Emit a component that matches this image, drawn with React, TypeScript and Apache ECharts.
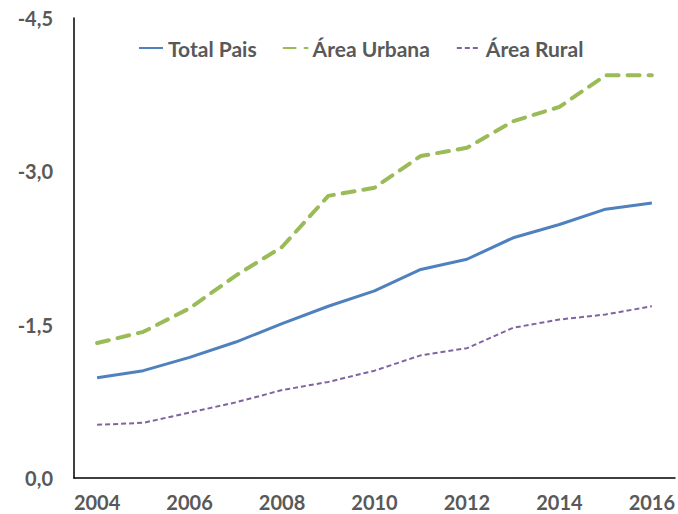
import React, { useEffect, useRef } from "react";
import * as echarts from "echarts";

const years = ["2004","2005","2006","2007","2008","2009","2010","2011","2012","2013","2014","2015","2016"];
const totalPais = [-0.98,-1.05,-1.18,-1.33,-1.51,-1.68,-1.83,-2.04,-2.14,-2.35,-2.48,-2.63,-2.69];
const areaUrbana = [-1.32,-1.43,-1.66,-1.98,-2.26,-2.76,-2.84,-3.15,-3.23,-3.49,-3.63,-3.94,-3.94];
const areaRural = [-0.52,-0.54,-0.64,-0.74,-0.86,-0.94,-1.05,-1.20,-1.27,-1.47,-1.55,-1.60,-1.68];
const seriesNames = ["Total Pais", "Área Urbana", "Área Rural"];

const FONT = "Lato";
const TXT = "#595959";

export default function App() {
  const ref = useRef<HTMLDivElement>(null);
  useEffect(() => {
    if (!ref.current) return;
    const chart = echarts.init(ref.current, undefined, { renderer: "svg" });
    chart.setOption({
      animation: false,
      backgroundColor: "#ffffff",
      legend: {
        top: 32,
        left: 133,
        itemWidth: 24,
        itemHeight: 4,
        itemGap: 26,
        data: seriesNames,
        itemStyle: { opacity: 0 },
        textStyle: { color: TXT, fontFamily: FONT, fontWeight: "bold", fontSize: 21, lineHeight: 22 },
      },
      grid: { left: 74, right: 1, top: 18, bottom: 36, containLabel: false },
      xAxis: {
        type: "category",
        data: years,
        boundaryGap: true,
        axisLine: { lineStyle: { color: "#000000", width: 1.5 } },
        axisTick: { show: false },
        axisLabel: {
          interval: 1,
          color: TXT,
          fontFamily: FONT,
          fontWeight: "bold",
          fontSize: 20,
          margin: 14,
        },
        splitLine: { show: false },
      },
      yAxis: {
        type: "value",
        inverse: true,
        min: -4.5,
        max: 0,
        interval: 1.5,
        axisLine: { show: true, lineStyle: { color: "#000000", width: 1.5 } },
        axisTick: { show: false },
        splitLine: { show: false },
        axisLabel: {
          color: TXT,
          fontFamily: FONT,
          fontWeight: "bold",
          fontSize: 20,
          margin: 21,
          formatter: (v: number) => (Math.abs(v) < 1e-9 ? "0,0" : v.toFixed(1).replace(".", ",")),
        },
      },
      series: [
        {
          name: seriesNames[0],
          type: "line",
          data: totalPais,
          symbol: "none",
          lineStyle: { color: "#4F81BD", width: 3 },
          itemStyle: { color: "#4F81BD" },
        },
        {
          name: seriesNames[1],
          type: "line",
          data: areaUrbana,
          symbol: "none",
          lineStyle: { color: "#9BBB59", width: 4, type: [12, 9], cap: "round" },
          itemStyle: { color: "#9BBB59" },
        },
        {
          name: seriesNames[2],
          type: "line",
          data: areaRural,
          symbol: "none",
          lineStyle: { color: "#8064A2", width: 2, type: [5, 3] },
          itemStyle: { color: "#8064A2" },
        },
      ],
    });
    return () => chart.dispose();
  }, []);
  return <div ref={ref} style={{ position: "fixed", left: 0, top: 0, width: 678, height: 514 }} />;
}
